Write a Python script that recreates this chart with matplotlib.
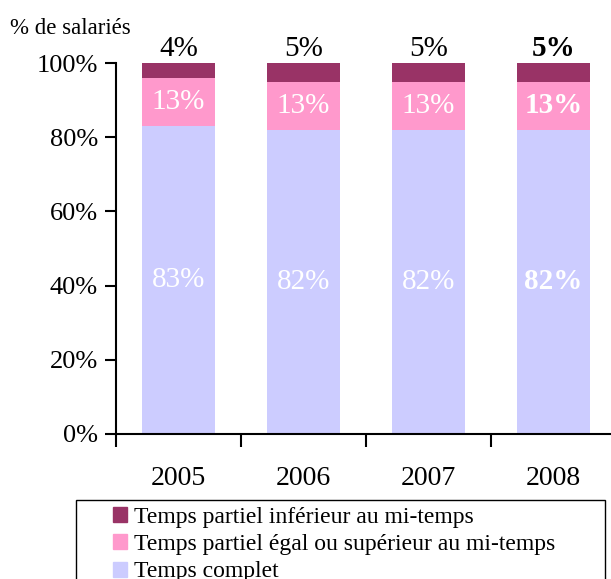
import matplotlib
matplotlib.use("Agg")
import matplotlib.pyplot as plt
import matplotlib.patches as mpatches
import numpy as np

plt.rcParams['font.family'] = ['Liberation Serif', 'DejaVu Serif']

years = ["2005", "2006", "2007", "2008"]
temps_complet = [83, 82, 82, 82]
partiel_sup = [13, 13, 13, 13]
partiel_inf = [4, 5, 5, 5]

c_complet = "#CCCCFF"
c_sup = "#FF99CC"
c_inf = "#993366"

W, H = 611, 579
fig = plt.figure(figsize=(W / 100, H / 100), dpi=100)
ax = fig.add_axes([116 / W, 1 - 434 / H, 500 / W, 371 / H])

x = np.arange(len(years))
bw = 0.59
ax.bar(x, temps_complet, bw, color=c_complet)
ax.bar(x, partiel_sup, bw, bottom=temps_complet, color=c_sup)
bot = np.array(temps_complet) + np.array(partiel_sup)
ax.bar(x, partiel_inf, bw, bottom=bot, color=c_inf)

for i in range(len(years)):
    fw = 'bold' if i == 3 else 'normal'
    ax.text(x[i], temps_complet[i] / 2, f"{temps_complet[i]}%", ha='center', va='center',
            color='white', fontsize=21, fontweight=fw)
    ax.text(x[i], temps_complet[i] + partiel_sup[i] / 2, f"{partiel_sup[i]}%", ha='center',
            va='center', color='white', fontsize=21, fontweight=fw)
    ax.annotate(f"{partiel_inf[i]}%", (x[i], 100), xytext=(0, 1), textcoords='offset points',
                ha='center', va='bottom', color='black', fontsize=21, fontweight=fw)

ax.set_xlim(-0.5, 3.5)
ax.set_ylim(0, 100)
ax.set_yticks([0, 20, 40, 60, 80, 100])
ax.set_yticklabels([f"{v}%" for v in [0, 20, 40, 60, 80, 100]], fontsize=19)
ax.set_xticks(np.arange(-0.5, 4, 1))
ax.set_xticklabels([])
ax.set_xticks(x, minor=True)
ax.set_xticklabels(years, minor=True, fontsize=20)
ax.tick_params(axis='x', which='minor', length=0, pad=23)
ax.tick_params(axis='x', which='major', length=9, width=1.5, direction='out')
ax.tick_params(axis='y', length=8, width=1.5, direction='out', pad=5)
for s in ['top', 'right']:
    ax.spines[s].set_visible(False)
for s in ['left', 'bottom']:
    ax.spines[s].set_linewidth(1.5)

fig.text(10 / W, 1 - 28 / H, "% de salariés", fontsize=16.5, va='center', ha='left')

# legend box
fig.patches.append(mpatches.Rectangle((76 / W, -0.05), 529 / W, 0.05 + (579 - 500) / H,
                                      transform=fig.transFigure, fill=False,
                                      edgecolor='black', linewidth=1))
handles = [mpatches.Patch(color=c_inf), mpatches.Patch(color=c_sup), mpatches.Patch(color=c_complet)]
labels = ["Temps partiel inférieur au mi-temps",
          "Temps partiel égal ou supérieur au mi-temps",
          "Temps complet"]
fig.legend(handles, labels, loc='upper left', bbox_to_anchor=(108 / W, 1 - 502 / H),
           frameon=False, fontsize=17, handlelength=0.6, handleheight=0.6,
           handletextpad=0.3, labelspacing=0.27, borderpad=0.2, borderaxespad=0)

fig.savefig("out.png", dpi=100)
